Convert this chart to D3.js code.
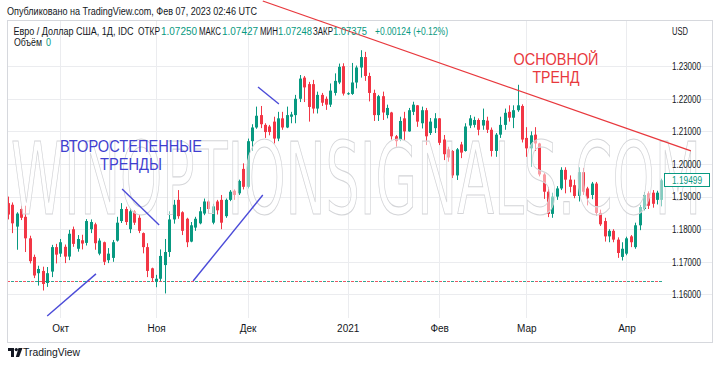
<!DOCTYPE html>
<html>
<head>
<meta charset="utf-8">
<script src="https://cdn.jsdelivr.net/npm/d3@7"></script>
<style>
  body { margin: 0; background: #fff; }
  svg { display: block; font-family: "Liberation Sans", "Open Sans", sans-serif; }
</style>
</head>
<body>
<div id="chart"></div>
<script>
// EUR/USD daily, IDC
const dates = [
  "2020-09-15","2020-09-16","2020-09-17","2020-09-18","2020-09-21","2020-09-22","2020-09-23","2020-09-24","2020-09-25","2020-09-28","2020-09-29","2020-09-30",
  "2020-10-01","2020-10-02","2020-10-05","2020-10-06","2020-10-07","2020-10-08","2020-10-09","2020-10-12","2020-10-13","2020-10-14","2020-10-15","2020-10-16",
  "2020-10-19","2020-10-20","2020-10-21","2020-10-22","2020-10-23","2020-10-26","2020-10-27","2020-10-28","2020-10-29","2020-10-30",
  "2020-11-02","2020-11-03","2020-11-04","2020-11-05","2020-11-06","2020-11-09","2020-11-10","2020-11-11","2020-11-12","2020-11-13","2020-11-16",
  "2020-11-17","2020-11-18","2020-11-19","2020-11-20","2020-11-23","2020-11-24","2020-11-25","2020-11-26","2020-11-27","2020-11-30",
  "2020-12-01","2020-12-02","2020-12-03","2020-12-04","2020-12-07","2020-12-08","2020-12-09","2020-12-10","2020-12-11","2020-12-14","2020-12-15","2020-12-16",
  "2020-12-17","2020-12-18","2020-12-21","2020-12-22","2020-12-23","2020-12-24","2020-12-25","2020-12-28","2020-12-29","2020-12-30","2020-12-31",
  "2021-01-01","2021-01-04","2021-01-05","2021-01-06","2021-01-07","2021-01-08","2021-01-11","2021-01-12","2021-01-13","2021-01-14","2021-01-15",
  "2021-01-18","2021-01-19","2021-01-20","2021-01-21","2021-01-22","2021-01-25","2021-01-26","2021-01-27","2021-01-28","2021-01-29",
  "2021-02-01","2021-02-02","2021-02-03","2021-02-04","2021-02-05","2021-02-08","2021-02-09","2021-02-10","2021-02-11","2021-02-12",
  "2021-02-15","2021-02-16","2021-02-17","2021-02-18","2021-02-19","2021-02-22","2021-02-23","2021-02-24","2021-02-25","2021-02-26",
  "2021-03-01","2021-03-02","2021-03-03","2021-03-04","2021-03-05","2021-03-08","2021-03-09","2021-03-10","2021-03-11","2021-03-12","2021-03-15","2021-03-16",
  "2021-03-17","2021-03-18","2021-03-19","2021-03-22","2021-03-23","2021-03-24","2021-03-25","2021-03-26","2021-03-29","2021-03-30","2021-03-31",
  "2021-04-01","2021-04-02","2021-04-05","2021-04-06","2021-04-07","2021-04-08","2021-04-09","2021-04-12","2021-04-13"
];

const opens = [
  1.1880,1.1875,1.1808,1.1862,1.1838,1.1772,1.1715,1.1665,1.1672,1.1635,1.1670,1.1745,
  1.1725,1.1746,1.1716,1.1800,1.1740,1.1766,1.1758,1.1800,1.1815,1.1725,1.1760,1.1705,
  1.1712,1.1765,1.1825,1.1862,1.1800,1.1855,1.1835,1.1788,1.1745,1.1680,
  1.1640,1.1648,1.1690,1.1730,1.1830,1.1890,1.1852,1.1832,1.1762,1.1805,1.1818,
  1.1848,1.1885,1.1820,1.1885,1.1890,1.1840,1.1890,1.1918,1.1910,1.1985,
  1.1930,1.2070,1.2112,1.2150,1.2120,1.2115,1.2130,1.2078,1.2140,1.2112,1.2145,1.2150,
  1.2200,1.2265,1.2245,1.2245,1.2170,1.2212,1.2200,1.2182,1.2218,1.2250,1.2300,
  1.2216,1.2215,1.2250,1.2296,1.2328,1.2270,1.2218,1.2150,1.2208,1.2150,1.2158,
  1.2085,1.2074,1.2140,1.2100,1.2160,1.2180,1.2125,1.2165,1.2095,1.2110,
  1.2140,1.2075,1.2045,1.2040,1.1965,1.2060,1.2040,1.2118,1.2120,1.2135,
  1.2118,1.2133,1.2105,1.2040,1.2090,1.2120,1.2160,1.2142,1.2165,1.2178,
  1.2080,1.2048,1.2090,1.2063,1.1968,1.1915,1.1847,1.1900,1.1925,1.1982,1.1952,1.1935,
  1.1902,1.1975,1.1925,1.1905,1.1940,1.1850,1.1825,1.1778,1.1795,1.1768,1.1715,
  1.1725,1.1778,1.1745,1.1812,1.1862,1.1910,1.1912,1.1890,1.1890
];

const highs = [
  1.1900,1.1882,1.1852,1.1872,1.1872,1.1780,1.1722,1.1688,1.1685,1.1684,1.1752,1.1755,
  1.1770,1.1753,1.1798,1.1808,1.1782,1.1783,1.1831,1.1830,1.1820,1.1772,1.1762,1.1742,
  1.1767,1.1838,1.1880,1.1869,1.1865,1.1859,1.1843,1.1790,1.1757,1.1682,
  1.1660,1.1738,1.1770,1.1855,1.1890,1.1920,1.1855,1.1835,1.1822,1.1838,1.1868,
  1.1894,1.1889,1.1878,1.1890,1.1905,1.1894,1.1920,1.1922,1.1952,1.2002,
  1.2078,1.2122,1.2176,1.2178,1.2125,1.2120,1.2145,1.2160,1.2160,1.2176,1.2160,1.2212,
  1.2273,1.2270,1.2252,1.2258,1.2222,1.2218,1.2207,1.2247,1.2278,1.2308,1.2309,
  1.2220,1.2310,1.2302,1.2349,1.2344,1.2280,1.2228,1.2212,1.2222,1.2182,1.2160,
  1.2089,1.2145,1.2160,1.2172,1.2191,1.2181,1.2176,1.2172,1.2141,1.2156,
  1.2141,1.2089,1.2053,1.2043,1.2049,1.2068,1.2125,1.2150,1.2145,1.2140,
  1.2170,1.2145,1.2112,1.2095,1.2145,1.2170,1.2180,1.2180,1.2243,1.2183,
  1.2113,1.2100,1.2113,1.2065,1.1972,1.1930,1.1912,1.1932,1.1990,1.1990,1.1965,1.1952,
  1.1990,1.1988,1.1930,1.1945,1.1945,1.1860,1.1835,1.1800,1.1800,1.1775,1.1760,
  1.1777,1.1782,1.1820,1.1875,1.1914,1.1916,1.1920,1.1918,1.1955
];

const lows = [
  1.1830,1.1788,1.1737,1.1828,1.1730,1.1695,1.1650,1.1627,1.1612,1.1623,1.1653,1.1695,
  1.1715,1.1696,1.1705,1.1746,1.1731,1.1738,1.1750,1.1788,1.1737,1.1720,1.1690,1.1696,
  1.1700,1.1762,1.1819,1.1813,1.1788,1.1813,1.1788,1.1726,1.1653,1.1639,
  1.1622,1.1640,1.1603,1.1715,1.1817,1.1832,1.1782,1.1745,1.1760,1.1795,1.1815,
  1.1843,1.1848,1.1815,1.1845,1.1800,1.1835,1.1886,1.1890,1.1905,1.1922,
  1.1925,1.2040,1.2108,1.2110,1.2080,1.2088,1.2063,1.2070,1.2105,1.2110,1.2125,1.2125,
  1.2190,1.2190,1.2130,1.2155,1.2155,1.2178,1.2166,1.2175,1.2210,1.2245,1.2210,
  1.2212,1.2212,1.2232,1.2265,1.2255,1.2192,1.2132,1.2132,1.2135,1.2140,1.2075,
  1.2053,1.2070,1.2074,1.2099,1.2150,1.2114,1.2109,1.2058,1.2089,1.2095,
  1.2058,1.2012,1.2007,1.1957,1.1951,1.2018,1.2038,1.2110,1.2112,1.2088,
  1.2105,1.2095,1.2023,1.2022,1.2080,1.2105,1.2130,1.2110,1.2160,1.2066,
  1.2022,1.1991,1.2040,1.1962,1.1893,1.1837,1.1835,1.1890,1.1920,1.1910,1.1913,1.1895,
  1.1885,1.1905,1.1873,1.1892,1.1842,1.1810,1.1762,1.1760,1.1760,1.1712,1.1704,
  1.1720,1.1745,1.1740,1.1797,1.1858,1.1862,1.1866,1.1876,1.1870
];

const closes = [
  1.1845,1.1818,1.1848,1.1835,1.1772,1.1702,1.1658,1.1678,1.1632,1.1665,1.1745,1.1722,
  1.1760,1.1716,1.1786,1.1755,1.1770,1.1756,1.1825,1.1822,1.1757,1.1765,1.1700,1.1725,
  1.1760,1.1820,1.1862,1.1822,1.1855,1.1820,1.1795,1.1745,1.1672,1.1650,
  1.1648,1.1718,1.1730,1.1830,1.1875,1.1840,1.1795,1.1760,1.1812,1.1832,1.1855,
  1.1885,1.1862,1.1870,1.1858,1.1820,1.1890,1.1915,1.1905,1.1948,1.1930,
  1.2070,1.2112,1.2148,1.2122,1.2098,1.2098,1.2078,1.2140,1.2112,1.2150,1.2152,1.2200,
  1.2262,1.2235,1.2175,1.2170,1.2212,1.2188,1.2182,1.2225,1.2255,1.2298,1.2216,
  1.2217,1.2250,1.2296,1.2328,1.2270,1.2218,1.2150,1.2208,1.2158,1.2172,1.2085,
  1.2070,1.2132,1.2100,1.2165,1.2182,1.2130,1.2165,1.2085,1.2130,1.2140,
  1.2065,1.2030,1.2020,1.1965,1.2045,1.2035,1.2115,1.2140,1.2135,1.2105,
  1.2135,1.2105,1.2040,1.2090,1.2120,1.2157,1.2142,1.2165,1.2180,1.2075,
  1.2048,1.2088,1.2063,1.1968,1.1915,1.1847,1.1900,1.1925,1.1982,1.1952,1.1930,1.1902,
  1.1975,1.1915,1.1895,1.1940,1.1850,1.1815,1.1778,1.1795,1.1768,1.1727,1.1740,
  1.1772,1.1760,1.1812,1.1868,1.1905,1.1872,1.1878,1.1912,1.1950
];

const priceTicks = [1.16, 1.17, 1.18, 1.19, 1.20, 1.21, 1.22, 1.23];
const monthLabels = ["Окт", "Ноя", "Дек", "2021", "Фев", "Мар", "Апр"];
const lastPrice = 1.19499;
const refLine = 1.1641;

// drawings: [bar index, price] pairs
const mainTrend = [[58.5, 1.2500], [156.8, 1.2040]];
const minorTrends = [
  [[9.0, 1.1534], [20.2, 1.1663]],
  [[26.2, 1.1923], [34.7, 1.1813]],
  [[42.5, 1.1641], [58.5, 1.1905]],
  [[57.4, 1.2236], [62.2, 1.2184]]
];

const width = 720, height = 366;
const frame = {left: 7, top: 20, right: 712, bottom: 342};
const up = "#089981", down = "#f23645", ink = "#131722", gridColor = "#ebecef";

const candles = dates.map((d, i) => ({
  i, date: d, open: opens[i], high: highs[i], low: lows[i], close: closes[i]
}));

const x = d3.scaleLinear()
    .domain([0, dates.length - 1])
    .range([8, 661.3]);

const y = d3.scaleLinear()
    .domain([1.16, 1.23])
    .range([294.4, 66.2]);

// first bar of every month after the first one
const monthStarts = candles
    .filter((d, i) => i > 0 && d.date.slice(5, 7) !== dates[i - 1].slice(5, 7))
    .map(d => d.i);

const svg = d3.select("#chart").append("svg")
    .attr("width", width)
    .attr("height", height)
    .attr("viewBox", [0, 0, width, height]);

svg.append("rect")
    .attr("width", width)
    .attr("height", height)
    .attr("fill", "#fff");

// grid
svg.append("g")
  .selectAll("line")
  .data(priceTicks)
  .join("line")
    .attr("x1", frame.left)
    .attr("x2", frame.right)
    .attr("y1", d => Math.round(y(d)) + 0.5)
    .attr("y2", d => Math.round(y(d)) + 0.5)
    .attr("stroke", gridColor);

svg.append("g")
  .selectAll("line")
  .data(monthStarts)
  .join("line")
    .attr("x1", d => Math.round(x(d)) + 0.5)
    .attr("x2", d => Math.round(x(d)) + 0.5)
    .attr("y1", frame.top)
    .attr("y2", 318)
    .attr("stroke", gridColor);

// dashed reference line, red and teal dashes in turn
const refY = Math.round(y(refLine)) + 0.5;
svg.append("g")
  .selectAll("line")
  .data([down, up])
  .join("line")
    .attr("x1", frame.left)
    .attr("x2", 663)
    .attr("y1", refY)
    .attr("y2", refY)
    .attr("stroke", d => d)
    .attr("stroke-opacity", 0.85)
    .attr("stroke-dasharray", "3,5")
    .attr("stroke-dashoffset", (d, i) => i * -4);

// candles
const cg = svg.append("g");
const colorOf = d => d.close >= d.open ? up : down;

cg.selectAll(".wick")
  .data(candles)
  .join("line")
    .attr("class", "wick")
    .attr("x1", d => Math.round(x(d.i)) + 0.5)
    .attr("x2", d => Math.round(x(d.i)) + 0.5)
    .attr("y1", d => y(d.high))
    .attr("y2", d => y(d.low))
    .attr("stroke", colorOf);

cg.selectAll(".body")
  .data(candles)
  .join("rect")
    .attr("class", "body")
    .attr("x", d => Math.round(x(d.i)) - 1)
    .attr("width", 3)
    .attr("y", d => y(Math.max(d.open, d.close)))
    .attr("height", d => Math.max(1, Math.abs(y(d.open) - y(d.close))))
    .attr("fill", colorOf);

// watermark over the plot
svg.append("text")
    .attr("x", 11)
    .attr("y", 214)
    .attr("textLength", 690)
    .attr("lengthAdjust", "spacingAndGlyphs")
    .attr("font-family", "Liberation Sans Narrow, DejaVu Sans Condensed, sans-serif")
    .attr("font-size", 100)
    .attr("fill", "#fff")
    .attr("fill-opacity", 0.5)
    .attr("stroke", "#d4d5d8")
    .attr("stroke-width", 1.1)
    .text("WINOPTIONSIGNALS.COM");

// frame
svg.append("rect")
    .attr("x", frame.left + 0.5)
    .attr("y", frame.top + 0.5)
    .attr("width", frame.right - frame.left)
    .attr("height", frame.bottom - frame.top)
    .attr("fill", "none")
    .attr("stroke", "#d6d8dd");

// price scale
svg.append("g")
    .attr("transform", "translate(666,0)")
    .call(d3.axisRight(y)
      .tickValues(priceTicks)
      .tickFormat(d3.format(".5f"))
      .tickSize(0)
      .tickPadding(6))
    .call(g => g.select(".domain").remove())
    .call(g => g.selectAll("text")
      .attr("fill", ink)
      .attr("font-size", 10)
      .attr("textLength", 29)
      .attr("lengthAdjust", "spacingAndGlyphs")
      .attr("font-family", "Liberation Sans, sans-serif"));

// time scale
svg.append("g")
    .attr("transform", "translate(0,323)")
    .call(d3.axisBottom(x)
      .tickValues(monthStarts)
      .tickFormat((d, i) => monthLabels[i])
      .tickSize(0)
      .tickPadding(2))
    .call(g => g.select(".domain").remove())
    .call(g => g.selectAll("text")
      .attr("fill", ink)
      .attr("font-size", 10)
      .attr("font-family", "Liberation Sans, sans-serif"));

// last price tag
const lp = Math.round(y(lastPrice));
svg.append("rect")
    .attr("x", 664.5).attr("y", lp - 6.5)
    .attr("width", 45).attr("height", 13)
    .attr("fill", "#fff")
    .attr("stroke", up);
svg.append("text")
    .attr("x", 672).attr("y", lp + 3.5)
    .attr("font-size", 10)
    .attr("textLength", 30)
    .attr("lengthAdjust", "spacingAndGlyphs")
    .attr("fill", up)
    .text(d3.format(".5f")(lastPrice));

// trend lines
const line = d3.line().x(d => x(d[0])).y(d => y(d[1]));

svg.append("path")
    .attr("d", line(mainTrend))
    .attr("fill", "none")
    .attr("stroke", "#e8383d")
    .attr("stroke-width", 1.3);

svg.append("g")
  .selectAll("path")
  .data(minorTrends)
  .join("path")
    .attr("d", line)
    .attr("fill", "none")
    .attr("stroke", "#4b4bd8")
    .attr("stroke-width", 1.4);

const notes = [
  {x: 556, y: 65, t: "ОСНОВНОЙ", w: 85, c: "#e8383d"},
  {x: 556, y: 83, t: "ТРЕНД", w: 47, c: "#e8383d"},
  {x: 131, y: 152, t: "ВТОРОСТЕПЕННЫЕ", w: 142, c: "#3f3fd0"},
  {x: 131, y: 170, t: "ТРЕНДЫ", w: 62, c: "#3f3fd0"}
];

svg.append("g")
  .selectAll("text")
  .data(notes)
  .join("text")
    .attr("x", d => d.x - d.w / 2)
    .attr("y", d => d.y)
    .attr("font-size", 16)
    .attr("textLength", d => d.w)
    .attr("lengthAdjust", "spacingAndGlyphs")
    .attr("fill", d => d.c)
    .text(d => d.t);

// header
svg.append("text")
    .attr("x", 7).attr("y", 15)
    .attr("font-size", 10)
    .attr("textLength", 250)
    .attr("lengthAdjust", "spacingAndGlyphs")
    .attr("fill", ink)
    .text("Опубликовано на TradingView.com, Фев 07, 2023 02:46 UTC");

const legend = [
  {x: 13.5, w: 120, t: "Евро / Доллар США, 1Д, IDC", c: ink},
  {x: 138, w: 22, t: "ОТКР", c: ink}, {x: 161, w: 36, t: "1.07250", c: up},
  {x: 199, w: 22, t: "МАКС", c: ink}, {x: 222, w: 36, t: "1.07427", c: up},
  {x: 260, w: 18, t: "МИН", c: ink}, {x: 278, w: 34, t: "1.07248", c: up},
  {x: 313, w: 20, t: "ЗАКР", c: ink}, {x: 333, w: 34, t: "1.07375", c: up},
  {x: 375, w: 73, t: "+0.00124 (+0.12%)", c: up},
  {x: 14, w: 28, t: "Объём", c: ink, row: 1}, {x: 46, w: 5, t: "0", c: up, row: 1},
  {x: 672, w: 16, t: "USD", c: ink}
];

svg.append("g")
  .selectAll("text")
  .data(legend)
  .join("text")
    .attr("x", d => d.x)
    .attr("y", d => d.row ? 46 : 35)
    .attr("font-size", 10)
    .attr("textLength", d => d.w)
    .attr("lengthAdjust", "spacingAndGlyphs")
    .attr("fill", d => d.c)
    .text(d => d.t);

// footer logo
const logo = svg.append("g").attr("fill", ink);
logo.append("path").attr("d", "M8,348h6v9h-3v-6h-3z");
logo.append("circle").attr("cx", 16.3).attr("cy", 349.6).attr("r", 1.6);
logo.append("path").attr("d", "M18.5,348h4l-3.4,9h-3.3z");
svg.append("text")
    .attr("x", 23).attr("y", 356)
    .attr("font-size", 11)
    .attr("textLength", 57)
    .attr("lengthAdjust", "spacingAndGlyphs")
    .attr("fill", ink)
    .text("TradingView");
</script>
</body>
</html>
